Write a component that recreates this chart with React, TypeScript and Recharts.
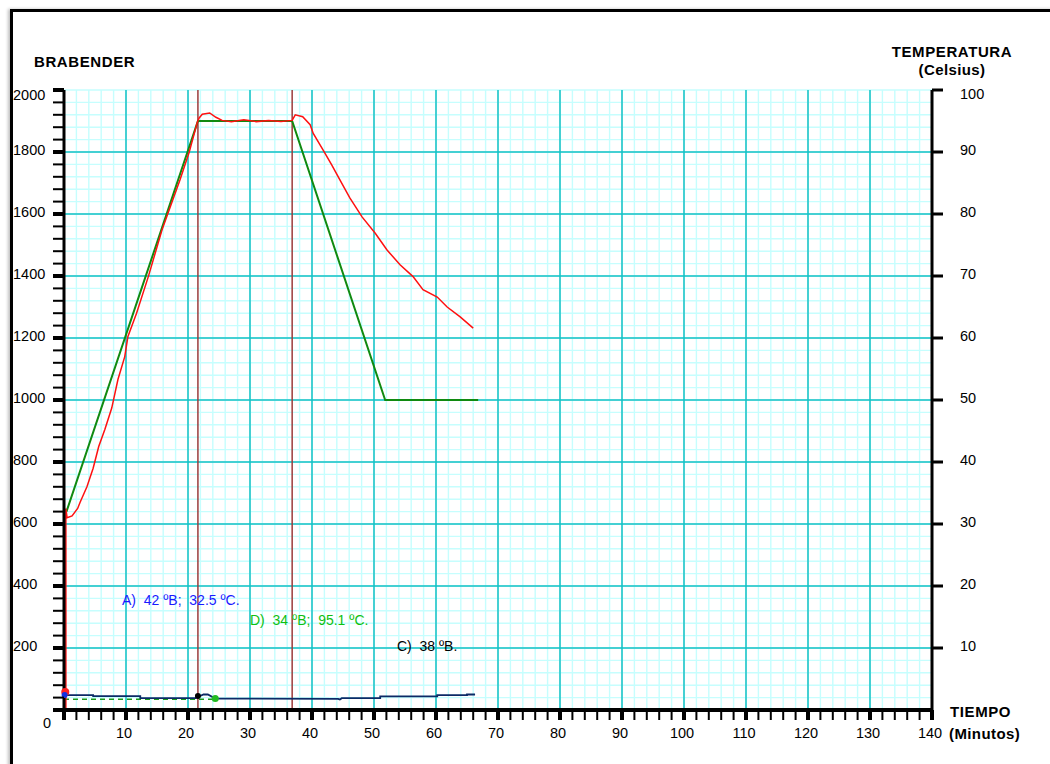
import { LineChart, Line, XAxis, YAxis, CartesianGrid, ReferenceLine, ReferenceDot } from "recharts"

// time in minutes, value in the unit of the axis the series belongs to
const programTemp = [
  { t: 0.4, v: 32 },
  { t: 21.6, v: 95 },
  { t: 36.8, v: 95 },
  { t: 51.8, v: 50 },
  { t: 66.8, v: 50 },
]

const measuredTemp = [
  { t: 0.3, v: 0 }, { t: 0.3, v: 32.5 }, { t: 0.5, v: 31 }, { t: 1.3, v: 31.3 },
  { t: 2.2, v: 32.5 }, { t: 2.6, v: 33.5 }, { t: 3.7, v: 36 }, { t: 4.7, v: 39 },
  { t: 5.6, v: 42.5 }, { t: 6.6, v: 45.3 }, { t: 7.7, v: 48.7 }, { t: 8.7, v: 53.3 },
  { t: 9.8, v: 57 }, { t: 10.3, v: 60.2 }, { t: 11.7, v: 64 }, { t: 13.6, v: 69.9 },
  { t: 15.8, v: 77.4 }, { t: 16.8, v: 80.2 }, { t: 18.7, v: 85.5 }, { t: 20.2, v: 90 },
  { t: 21.5, v: 94.8 }, { t: 21.8, v: 95.5 }, { t: 22.3, v: 96.1 }, { t: 23.5, v: 96.3 },
  { t: 24.5, v: 95.6 }, { t: 25.5, v: 95.1 }, { t: 27, v: 94.9 }, { t: 29, v: 95.2 },
  { t: 31, v: 94.9 }, { t: 33, v: 95.1 }, { t: 35, v: 94.9 }, { t: 36.8, v: 95.1 },
  { t: 37.3, v: 96 }, { t: 38.5, v: 95.7 }, { t: 39.7, v: 94.4 }, { t: 40.2, v: 93 },
  { t: 41.8, v: 90.3 }, { t: 43.2, v: 87.9 }, { t: 44.5, v: 85.5 }, { t: 46.1, v: 82.6 },
  { t: 48.1, v: 79.5 }, { t: 50.2, v: 76.9 }, { t: 52.1, v: 74.2 }, { t: 54.2, v: 71.8 },
  { t: 56.3, v: 69.9 }, { t: 57.9, v: 67.8 }, { t: 60.2, v: 66.6 }, { t: 61.8, v: 65 },
  { t: 63.9, v: 63.4 }, { t: 66.0, v: 61.6 },
]

// viscosity, Brabender units
const viscosity = [
  { t: 0, v: 48 }, { t: 4.7, v: 48 }, { t: 4.7, v: 45 }, { t: 12.3, v: 45 },
  { t: 12.3, v: 38 }, { t: 21.2, v: 38 }, { t: 21.6, v: 42 }, { t: 22.5, v: 50 },
  { t: 23.2, v: 50 }, { t: 24.4, v: 37 }, { t: 44.2, v: 36 }, { t: 44.5, v: 34 },
  { t: 44.8, v: 38 }, { t: 51, v: 38 }, { t: 51, v: 44 }, { t: 60.2, v: 44 },
  { t: 60.2, v: 48 }, { t: 65, v: 48 }, { t: 65, v: 50 }, { t: 66.3, v: 50 },
]

const baseline = [
  { t: 0, v: 35 },
  { t: 24.4, v: 35 },
]

const markerLines = [21.6, 36.8]

const xMajor = [10, 20, 30, 40, 50, 60, 70, 80, 90, 100, 110, 120, 130]
const yMajor = [200, 400, 600, 800, 1000, 1200, 1400, 1600, 1800]
const xTicks = Array.from({ length: 71 }, (_, i) => i * 2)
const yTicks = Array.from({ length: 51 }, (_, i) => i * 40)
const tempTicks = [0, 10, 20, 30, 40, 50, 60, 70, 80, 90, 100]

const font = "'Liberation Sans', Arial, sans-serif"
const gap = "\u00a0 "

const LeftTick = (props: any) => {
  const { x, y, payload } = props
  const v = payload.value
  const major = v % 200 === 0
  return (
    <g>
      <line x1={x - 11} x2={x} y1={y} y2={y} stroke="#000" strokeWidth={major ? 4 : 2} />
      {major && v !== 0 && (
        <text x={13} y={y + (v === 2000 ? 5 : -2)} dominantBaseline="central" fontSize={14.5} fontFamily={font} fill="#000">
          {v}
        </text>
      )}
      {v === 0 && (
        <text x={43} y={y + 13} dominantBaseline="central" fontSize={14.5} fontFamily={font} fill="#000">
          0
        </text>
      )}
    </g>
  )
}

const RightTick = (props: any) => {
  const { x, y, payload } = props
  const v = payload.value
  if (v === 0) return <g />
  return (
    <g>
      <line x1={x} x2={x + 11} y1={y} y2={y} stroke="#000" strokeWidth={3} />
      <text x={x + 28} y={y + (v === 100 ? 4 : -2)} dominantBaseline="central" fontSize={14.5} fontFamily={font} fill="#000">
        {v}
      </text>
    </g>
  )
}

const BottomTick = (props: any) => {
  const { x, y, payload } = props
  const v = payload.value
  const major = v % 10 === 0
  return (
    <g>
      <line x1={x} x2={x} y1={y} y2={y + 10} stroke="#000" strokeWidth={major ? 4 : 2} />
      {major && v !== 0 && (
        <text x={x - 2} y={y + 23} textAnchor="middle" dominantBaseline="central" fontSize={14.5} fontFamily={font} fill="#000">
          {v}
        </text>
      )}
    </g>
  )
}

const title = {
  position: "absolute" as const,
  fontFamily: font,
  fontWeight: 700,
  fontSize: 15,
  lineHeight: "16px",
  letterSpacing: 0.6,
  color: "#000",
  whiteSpace: "nowrap" as const,
}

export default function App() {
  return (
    <div style={{ position: "absolute", left: 0, top: 0, width: 1050, height: 764, background: "#fff", overflow: "hidden" }}>
      <div
        style={{
          position: "absolute",
          left: 10,
          top: 9,
          width: 1050,
          height: 764,
          borderTop: "3px solid #000",
          borderLeft: "3px solid #000",
          boxShadow: "-2px 0 3px rgba(0,0,0,0.25)",
        }}
      />
      <div style={{ position: "absolute", left: 0, top: 0 }}>
        <LineChart width={1050} height={764} margin={{ top: 90, right: 0, bottom: 0, left: 0 }}>
          <CartesianGrid stroke="#c6fefe" strokeWidth={1.4} />
          {xMajor.map((m) => (
            <ReferenceLine key={`vx${m}`} x={m} stroke="#14c0c4" strokeWidth={1.5} />
          ))}
          {yMajor.map((b) => (
            <ReferenceLine key={`hy${b}`} y={b} stroke="#14c0c4" strokeWidth={1.5} />
          ))}
          {markerLines.map((m) => (
            <ReferenceLine key={`mk${m}`} x={m} stroke="#9b3b3b" strokeWidth={1.5} />
          ))}
          <XAxis
            dataKey="t"
            type="number"
            domain={[0, 140]}
            ticks={xTicks}
            interval={0}
            height={54}
            tickSize={0}
            tickMargin={0}
            tickLine={false}
            axisLine={{ stroke: "#000", strokeWidth: 4 }}
            tick={BottomTick}
          />
          <YAxis
            type="number"
            domain={[0, 2000]}
            ticks={yTicks}
            interval={0}
            width={64}
            tickSize={0}
            tickMargin={0}
            tickLine={false}
            axisLine={{ stroke: "#000", strokeWidth: 3 }}
            tick={LeftTick}
          />
          <YAxis
            yAxisId="temp"
            orientation="right"
            type="number"
            domain={[0, 100]}
            ticks={tempTicks}
            interval={0}
            width={118}
            tickSize={0}
            tickMargin={0}
            tickLine={false}
            axisLine={{ stroke: "#000", strokeWidth: 3 }}
            tick={RightTick}
          />
          <Line data={baseline} dataKey="v" stroke="#1a9a1a" strokeWidth={1.5} strokeDasharray="5 4" dot={false} isAnimationActive={false} />
          <Line data={viscosity} dataKey="v" stroke="#0c2a66" strokeWidth={1.8} dot={false} isAnimationActive={false} />
          <Line yAxisId="temp" data={programTemp} dataKey="v" stroke="#108a10" strokeWidth={2} dot={false} isAnimationActive={false} />
          <Line yAxisId="temp" data={measuredTemp} dataKey="v" stroke="#ff1010" strokeWidth={1.5} dot={false} isAnimationActive={false} />
          <ReferenceDot x={0.2} y={58} r={4} fill="#ff2020" stroke="none" />
          <ReferenceDot x={0.1} y={48} r={3} fill="#1030e0" stroke="none" />
          <ReferenceDot x={21.6} y={45} r={3} fill="#000" stroke="none" />
          <ReferenceDot x={24.4} y={37} r={3.5} fill="#22bb22" stroke="none" />
          <ReferenceDot
            x={9.35}
            y={355}
            r={0}
            label={{ value: `A)${gap}42 ºB;${gap}32.5 ºC.`, position: "right", offset: 0, fill: "#1a1aff", fontSize: 14, fontFamily: font }}
          />
          <ReferenceDot
            x={30}
            y={290}
            r={0}
            label={{ value: `D)${gap}34 ºB;${gap}95.1 ºC.`, position: "right", offset: 0, fill: "#10c010", fontSize: 14, fontFamily: font }}
          />
          <ReferenceDot
            x={53.7}
            y={206}
            r={0}
            label={{ value: `C)${gap}38 ºB.`, position: "right", offset: 0, fill: "#000", fontSize: 14, fontFamily: font }}
          />
        </LineChart>
      </div>
      <div style={{ ...title, left: 34, top: 54 }}>BRABENDER</div>
      <div style={{ ...title, left: 886, top: 44, width: 132, textAlign: "center" }}>TEMPERATURA</div>
      <div style={{ ...title, left: 886, top: 62, width: 132, textAlign: "center", letterSpacing: 0.4 }}>(Celsius)</div>
      <div style={{ ...title, left: 950, top: 704 }}>TIEMPO</div>
      <div style={{ ...title, left: 949, top: 726, letterSpacing: 0.4 }}>(Minutos)</div>
    </div>
  )
}
